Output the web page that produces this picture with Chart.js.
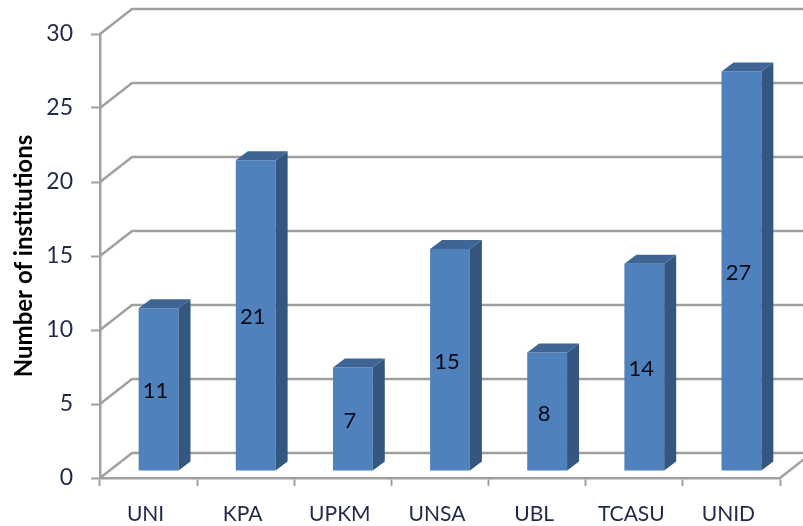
<!DOCTYPE html>
<html>
<head>
<meta charset="utf-8">
<title>Number of institutions</title>
<script src="https://cdn.jsdelivr.net/npm/chart.js@4/dist/chart.umd.min.js"></script>
<style>
  html, body { margin: 0; padding: 0; background: #fff; overflow: hidden; }
  #wrap { width: 803px; height: 526px; }
  /* the reference is a soft, upscaled screenshot */
  #chart { filter: blur(0.5px); }
</style>
</head>
<body>
<div id="wrap"><canvas id="chart"></canvas></div>
<script>
/* data */
const categories = ['UNI', 'KPA', 'UPKM', 'UNSA', 'UBL', 'TCASU', 'UNID'];
const institutions = [11, 21, 7, 15, 8, 14, 27];
const yTicks = [0, 5, 10, 15, 20, 25, 30];

/* fake 3D look, Excel style */
const WALL_DX = 32, WALL_DY = -25;   // depth of the floor and walls
const BAR_DX = 10, BAR_DY = -7;      // how far the bars sit behind the axis
const SIDE_DX = 12, SIDE_DY = -9;    // depth of a bar
const lineGrey = '#a0a0a0';
const frontBlue = '#4f81bd', sideBlue = '#34577f', topBlue = '#3e6594';
const labelColor = '#1f2a48';
const fontName = "Lato, 'Open Sans', sans-serif";

const walls3d = {
  id: 'walls3d',
  beforeDatasetsDraw(chart) {
    const { ctx, scales: { x, y } } = chart;
    ctx.save();
    ctx.strokeStyle = lineGrey;
    ctx.lineWidth = 2.5;
    yTicks.forEach((v) => {
      const py = y.getPixelForValue(v);
      ctx.beginPath();
      ctx.moveTo(x.left, py);
      ctx.lineTo(x.left + WALL_DX, py + WALL_DY);
      ctx.lineTo(x.right + WALL_DX, py + WALL_DY);
      ctx.stroke();
    });
    // right edge of the floor
    const py0 = y.getPixelForValue(0);
    ctx.beginPath();
    ctx.moveTo(x.right, py0);
    ctx.lineTo(x.right + WALL_DX, py0 + WALL_DY);
    ctx.stroke();
    ctx.restore();
  }
};

const bars3d = {
  id: 'bars3d',
  beforeDatasetDraw(chart) {
    chart.ctx.save();
    chart.ctx.translate(BAR_DX, BAR_DY);
  },
  afterDatasetDraw(chart, args) {
    const ctx = chart.ctx;
    args.meta.data.forEach((bar) => {
      const l = bar.x - bar.width / 2, r = bar.x + bar.width / 2;
      // side face
      ctx.fillStyle = sideBlue;
      ctx.beginPath();
      ctx.moveTo(r, bar.y);
      ctx.lineTo(r + SIDE_DX, bar.y + SIDE_DY);
      ctx.lineTo(r + SIDE_DX, bar.base + SIDE_DY);
      ctx.lineTo(r, bar.base);
      ctx.closePath();
      ctx.fill();
      // top face
      ctx.fillStyle = topBlue;
      ctx.beginPath();
      ctx.moveTo(l, bar.y);
      ctx.lineTo(l + SIDE_DX, bar.y + SIDE_DY);
      ctx.lineTo(r + SIDE_DX, bar.y + SIDE_DY);
      ctx.lineTo(r, bar.y);
      ctx.closePath();
      ctx.fill();
    });
    ctx.restore();
  },
  afterDatasetsDraw(chart) {
    // value labels, middle of the front face
    const ctx = chart.ctx;
    ctx.save();
    ctx.fillStyle = '#0a0a14';
    ctx.font = '22px ' + fontName;
    ctx.textAlign = 'center';
    ctx.textBaseline = 'middle';
    chart.getDatasetMeta(0).data.forEach((bar, i) => {
      ctx.fillText(String(institutions[i]), bar.x + BAR_DX - 3, (bar.y + bar.base) / 2 + BAR_DY + 2);
    });
    ctx.restore();
  }
};

new Chart(document.getElementById('chart'), {
  type: 'bar',
  data: {
    labels: categories,
    datasets: [{
      data: institutions,
      backgroundColor: frontBlue,
      borderWidth: 0,
      barPercentage: 0.41,
      categoryPercentage: 1,
      clip: false
    }]
  },
  options: {
    responsive: true,
    maintainAspectRatio: false,
    animation: false,
    layout: { padding: { top: 34, right: 23, bottom: 0, left: 0 } },
    plugins: { legend: { display: false }, tooltip: { enabled: false } },
    scales: {
      x: {
        afterFit: (s) => { s.height = 48; },
        border: { color: lineGrey, width: 2.5 },
        grid: { drawOnChartArea: false, tickLength: 8, tickColor: lineGrey, tickWidth: 2 },
        ticks: { color: labelColor, font: { family: fontName, size: 21 }, padding: 16, labelOffset: -3, maxRotation: 0 }
      },
      y: {
        min: 0,
        max: 30,
        afterFit: (s) => { s.width = 100; },
        afterBuildTicks: (s) => { s.ticks = yTicks.map((v) => ({ value: v })); },
        border: { color: lineGrey, width: 2.5 },
        grid: { drawOnChartArea: false, tickLength: 9, tickColor: lineGrey, tickWidth: 2 },
        ticks: { color: labelColor, font: { family: fontName, size: 23 }, padding: 18 },
        title: {
          display: true,
          text: 'Number of institutions',
          color: '#000',
          font: { family: fontName, size: 24, weight: 'bold' },
          padding: { top: 10, bottom: 0 }
        }
      }
    }
  },
  plugins: [walls3d, bars3d]
});
</script>
</body>
</html>
